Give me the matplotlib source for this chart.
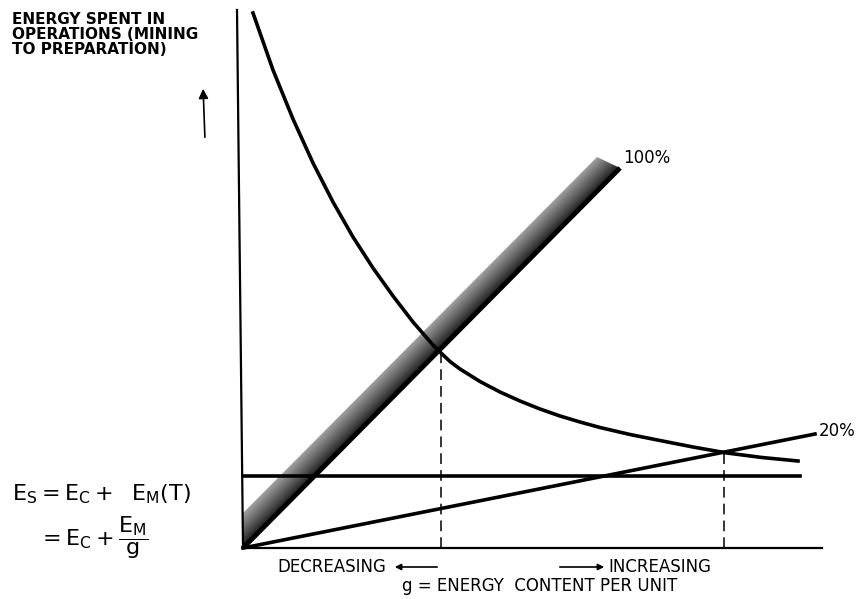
import numpy as np
import matplotlib
matplotlib.use("Agg")
import matplotlib.pyplot as plt
from matplotlib.patches import Polygon

plt.rcParams['font.family'] = ['DejaVu Sans']
plt.rcParams['mathtext.fontset'] = 'dejavusans'

# Kurve E_M/g, g = Energieinhalt, E = Energieaufwand
g_curve = [10, 30, 50, 70, 90, 110, 130, 150, 170, 190, 198, 207, 217, 237, 257, 277,
           297, 317, 337, 357, 387, 417, 450, 484, 519, 555]
e_curve = [535, 478, 429, 385, 346, 311, 280, 252, 226, 203, 195, 186.5, 179, 166.5, 156, 147,
           139, 132, 126, 120.5, 113.5, 107.5, 101, 95, 90.5, 87]

# Geraden
line100_g = [0, 377]
line100_e = [0, 380]
line20_g = [0, 572]
line20_e = [0, 114]
ec_g = [0, 557]
ec_e = [72, 72]
band_offset = 35

# Schnittpunkte (gestrichelt)
cut_g = [198, 481]
cut_e = [195, 96]

fig = plt.figure(figsize=(8.67, 5.99), dpi=100)
ax = fig.add_axes([0, 0, 1, 1])
ax.set_xlim(-243, 624)
ax.set_ylim(-51, 548)
ax.axis('off')

# schattiertes Band am 100%-Strahl
d = np.array([line100_g[1], line100_e[1]], float)
n = np.array([-d[1], d[0]]) / np.hypot(*d)
xx, yy = np.meshgrid(np.linspace(0, 400, 400), np.linspace(0, 420, 420))
dist = xx * n[0] + yy * n[1]
w = band_offset * d[0] / np.hypot(*d)
shade = np.clip(dist / w, 0, 1)
gray = 0.08 + 0.55 * shade ** 0.9
img = ax.imshow(gray, cmap='gray', vmin=0, vmax=1, extent=[0, 400, 0, 420],
                origin='lower', interpolation='bilinear', zorder=1)
top_corner = (line100_g[1] - 23, line100_e[1] + 11)
band = Polygon([(0, 0), (line100_g[1], line100_e[1]), top_corner, (0, band_offset)],
               closed=True, facecolor='none', edgecolor='none', transform=ax.transData)
ax.add_patch(band)
img.set_clip_path(band)

lw = 2.6
# Achsen
ax.plot([-6, 0], [538, 0], color='black', lw=1.6, zorder=3)
ax.plot([0, 579], [0, 0], color='black', lw=1.6, zorder=3)

ax.plot(line100_g, line100_e, color='black', lw=3.5, solid_capstyle='butt', zorder=3)
ax.plot(line20_g, line20_e, color='black', lw=lw, zorder=3)
ax.plot(ec_g, ec_e, color='black', lw=lw, zorder=3)
ax.plot(g_curve, e_curve, color='black', lw=lw, zorder=3, solid_joinstyle='round')

for gc, ecut in zip(cut_g, cut_e):
    ax.plot([gc, gc], [0, ecut], color='black', lw=1.1, dashes=(7, 4), zorder=2)

ax.text(380, 390, '100%', fontsize=12, va='center', ha='left')
ax.text(576, 117, '20%', fontsize=12, va='center', ha='left')

lab = dict(fontsize=11, fontweight='bold', ha='left', va='top')
ax.text(-231, 536, 'ENERGY SPENT IN', **lab)
ax.text(-231, 521, 'OPERATIONS (MINING', **lab)
ax.text(-231, 506, 'TO PREPARATION)', **lab)

ax.annotate('', xy=(-40, 462), xytext=(-38, 408),
            arrowprops=dict(arrowstyle='-|>', color='black', lw=1.2, mutation_scale=14))

ax.text(-231, 48, r'$\mathregular{E_S = E_C +\ \ E_M(T)}$', fontsize=16, ha='left', va='baseline')
ax.text(-205, 2, r'$\mathregular{= E_C + \dfrac{E_M}{g}}$', fontsize=16, ha='left', va='baseline')

ax.text(34, -19, 'DECREASING', fontsize=12, ha='left', va='center')
ax.annotate('', xy=(149, -19), xytext=(197, -19),
            arrowprops=dict(arrowstyle='-|>', color='black', lw=1.2, mutation_scale=9))
ax.annotate('', xy=(364, -19), xytext=(314, -19),
            arrowprops=dict(arrowstyle='-|>', color='black', lw=1.2, mutation_scale=9))
ax.text(365, -19, 'INCREASING', fontsize=12, ha='left', va='center')
ax.text(159, -38, 'g = ENERGY  CONTENT PER UNIT', fontsize=12, ha='left', va='center')

fig.savefig('out.png', dpi=100)
